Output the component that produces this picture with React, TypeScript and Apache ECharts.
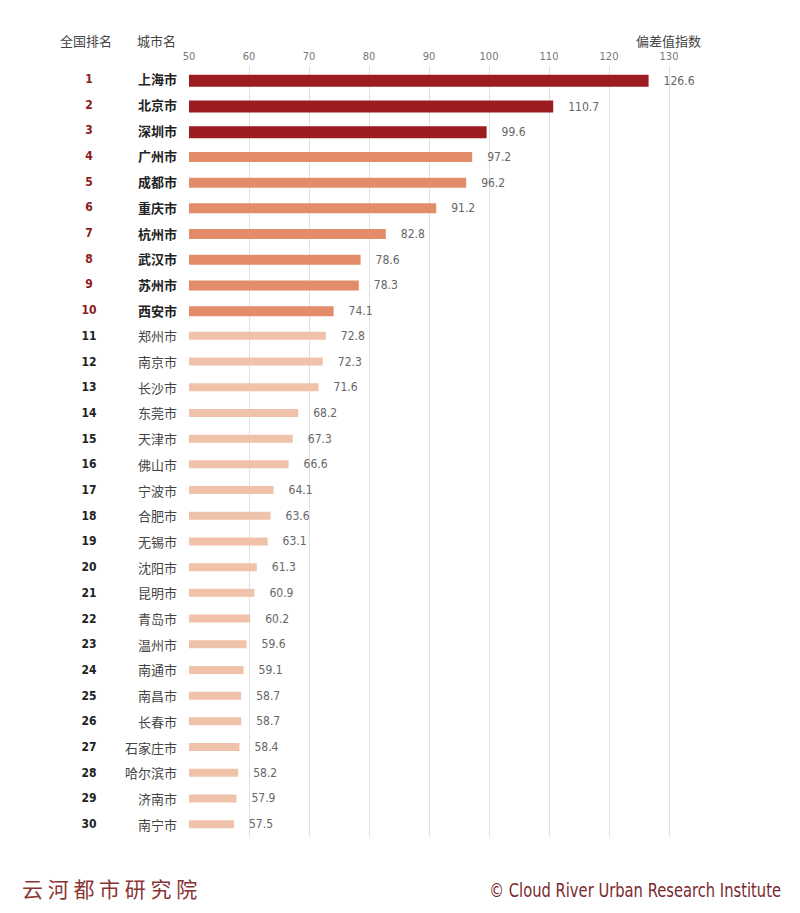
import React, { useEffect, useRef } from "react";
import * as echarts from "echarts";

const ranks = [1, 2, 3, 4, 5, 6, 7, 8, 9, 10, 11, 12, 13, 14, 15, 16, 17, 18, 19, 20, 21, 22, 23, 24, 25, 26, 27, 28, 29, 30];
const cities = ["上海市", "北京市", "深圳市", "广州市", "成都市", "重庆市", "杭州市", "武汉市", "苏州市", "西安市", "郑州市", "南京市", "长沙市", "东莞市", "天津市", "佛山市", "宁波市", "合肥市", "无锡市", "沈阳市", "昆明市", "青岛市", "温州市", "南通市", "南昌市", "长春市", "石家庄市", "哈尔滨市", "济南市", "南宁市"];
const values = [126.6, 110.7, 99.6, 97.2, 96.2, 91.2, 82.8, 78.6, 78.3, 74.1, 72.8, 72.3, 71.6, 68.2, 67.3, 66.6, 64.1, 63.6, 63.1, 61.3, 60.9, 60.2, 59.6, 59.1, 58.7, 58.7, 58.4, 58.2, 57.9, 57.5];
const tiers = [1, 1, 1, 2, 2, 2, 2, 2, 2, 2, 3, 3, 3, 3, 3, 3, 3, 3, 3, 3, 3, 3, 3, 3, 3, 3, 3, 3, 3, 3];
const tickLabels = ["50", "60", "70", "80", "90", "100", "110", "120", "130"];

const tierColors: Record<number, string> = { 1: "#9c1c22", 2: "#e38c69", 3: "#f0c2aa" };
const tierWidths: Record<number, number> = { 1: 12, 2: 10, 3: 8 };

const CJK = "'Noto Sans CJK SC', 'Noto Sans', sans-serif";
const NARROW = "'Liberation Sans Narrow', 'DejaVu Sans Condensed', 'Noto Sans CJK SC', sans-serif";

export default function App() {
  const ref = useRef<HTMLDivElement>(null);
  useEffect(() => {
    if (!ref.current) return;
    const chart = echarts.init(ref.current, undefined, { renderer: "svg" });
    const series = [1, 2, 3].map((t) => ({
      type: "bar",
      name: "tier" + t,
      barWidth: tierWidths[t],
      barGap: "-100%",
      itemStyle: { color: tierColors[t] },
      label: {
        show: true,
        position: "right",
        distance: 15,
        color: "#666",
        fontSize: 12,
        fontFamily: NARROW,
        formatter: (p: any) => String(p.value),
      },
      data: values.map((v, i) => (tiers[i] === t ? v : "-")),
    }));
    chart.setOption({
      animation: false,
      backgroundColor: "#ffffff",
      grid: { left: 189, right: 131, top: 66, bottom: 76, outerBoundsMode: "none" },
      xAxis: {
        type: "value",
        position: "top",
        min: 50,
        max: 130,
        interval: 10,
        axisLine: { show: false },
        axisTick: { show: false },
        splitLine: { show: true, showMinLine: false, lineStyle: { color: "#e0e0e0", width: 1 } },
        axisLabel: {
          margin: 4,
          color: "#777",
          fontSize: 11,
          fontFamily: NARROW,
          formatter: (v: number) => tickLabels[Math.round((v - 50) / 10)] ?? String(v),
        },
      },
      yAxis: {
        type: "category",
        inverse: true,
        data: cities,
        axisLine: { show: false },
        axisTick: { show: false },
        axisLabel: {
          margin: 12,
          formatter: (value: string, index: number) => {
            const top = ranks[index] <= 10;
            return `{${top ? "rr" : "rb"}|${ranks[index]}}{${top ? "nb" : "n"}|${value}}`;
          },
          rich: {
            rr: { width: 40, align: "center", color: "#8b1a1e", fontWeight: "bold", fontSize: 12, fontFamily: NARROW },
            rb: { width: 40, align: "center", color: "#222", fontWeight: "bold", fontSize: 12, fontFamily: NARROW },
            nb: { width: 68, align: "right", color: "#222", fontWeight: "bold", fontSize: 13, fontFamily: CJK },
            n: { width: 68, align: "right", color: "#444", fontSize: 13, fontFamily: CJK },
          },
        },
      },
      graphic: [
        { type: "text", left: 60, top: 34, style: { text: "全国排名", fill: "#444", fontSize: 13, fontFamily: CJK } },
        { type: "text", left: 137, top: 34, style: { text: "城市名", fill: "#444", fontSize: 13, fontFamily: CJK } },
        { type: "text", left: 636, top: 34, style: { text: "偏差值指数", fill: "#444", fontSize: 13, fontFamily: CJK } },
        {
          type: "text",
          left: 22,
          top: 877,
          style: { text: "云 河 都 市 研 究 院", fill: "#8a3434", fontSize: 21, fontFamily: CJK },
        },
        {
          type: "text",
          x: 781,
          y: 890,
          scaleX: 0.82,
          style: {
            text: "© Cloud River Urban Research Institute",
            fill: "#7a2a2e",
            fontSize: 20,
            fontFamily: NARROW,
            align: "right",
            verticalAlign: "middle",
          },
        },
      ],
      series,
    });
    return () => chart.dispose();
  }, []);
  return <div ref={ref} style={{ position: "fixed", left: 0, top: 0, width: 800, height: 913 }} />;
}
